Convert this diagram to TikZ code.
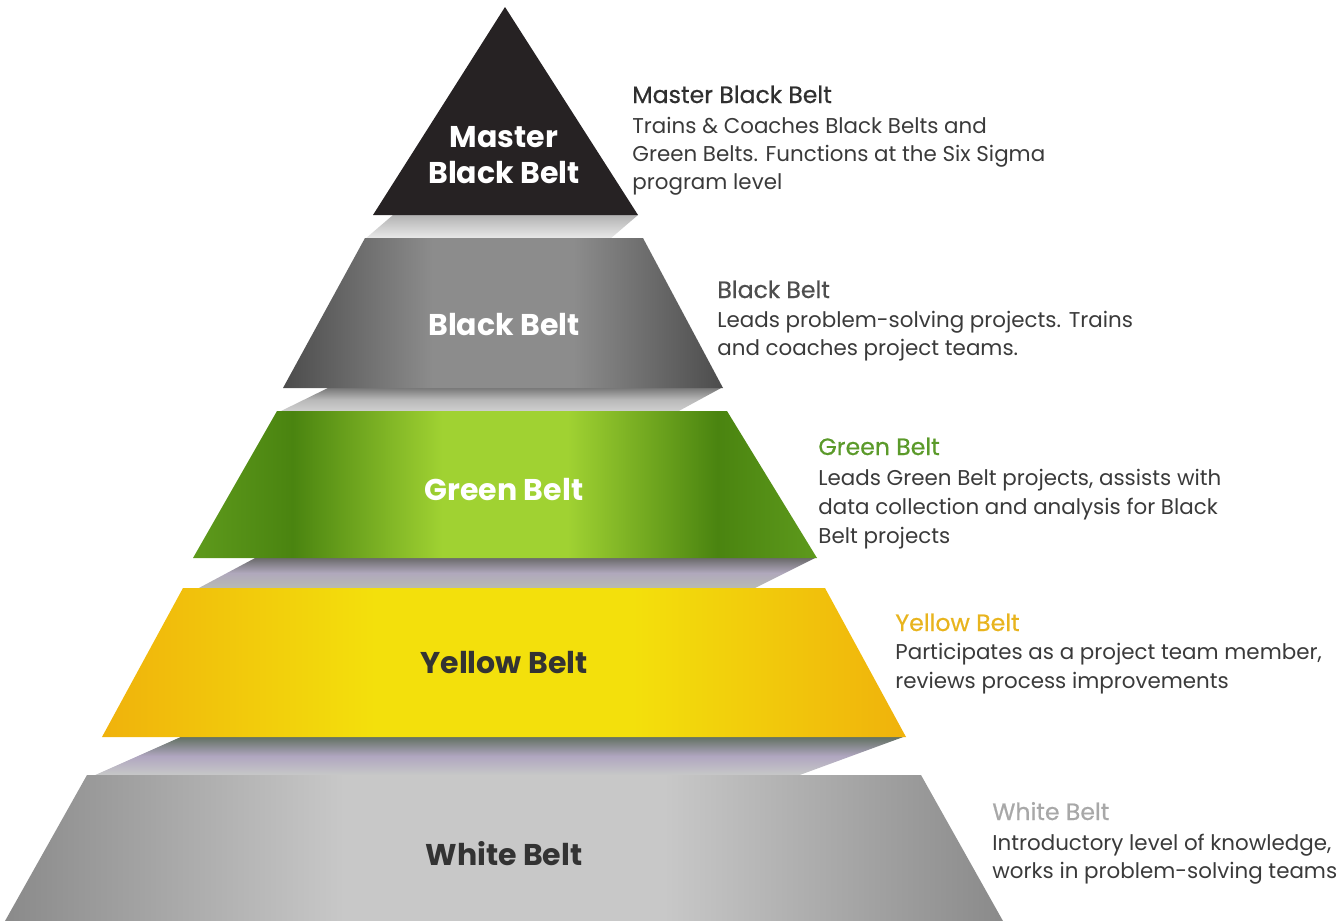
\documentclass[tikz,border=0pt]{standalone}
\usepackage{fontspec}
\setmainfont{Poppins}
\newfontfamily\headfont[FakeBold=0.6]{Poppins}
\definecolor{mbbfill}{HTML}{262223}
\definecolor{bbedge}{HTML}{4C4C4C}
\definecolor{bbmid}{HTML}{8C8C8C}
\definecolor{gbedge}{HTML}{5E9A1C}
\definecolor{gbdark}{HTML}{4A8410}
\definecolor{gbmid}{HTML}{A0D232}
\definecolor{ybedge}{HTML}{F0B20C}
\definecolor{ybmid}{HTML}{F3E00C}
\definecolor{wbedge}{HTML}{8A8A8A}
\definecolor{wbmid}{HTML}{C8C8C8}
\definecolor{bodygray}{HTML}{3A3A3A}
\definecolor{headdark}{HTML}{2F2F2F}
\definecolor{headgreen}{HTML}{5B9A2A}
\definecolor{headyellow}{HTML}{E8B41E}
\definecolor{headwhite}{HTML}{A8A8A8}
\definecolor{labeldark}{HTML}{333333}
\definecolor{bandlav}{RGB}{176,168,188}
\definecolor{bandsage}{RGB}{184,188,180}
\definecolor{bandtop}{RGB}{94,110,94}
\definecolor{bandlav2}{RGB}{176,166,192}
\definecolor{bandlow}{RGB}{200,202,200}
\pgfdeclarehorizontalshading{bbshade}{100bp}{color(0bp)=(bbedge); color(25bp)=(bbedge); color(42bp)=(bbmid); color(58bp)=(bbmid); color(75bp)=(bbedge); color(100bp)=(bbedge)}
\pgfdeclarehorizontalshading{gbshade}{100bp}{color(0bp)=(gbedge); color(25bp)=(gbedge); color(33bp)=(gbdark); color(45bp)=(gbmid); color(55bp)=(gbmid); color(67bp)=(gbdark); color(75bp)=(gbedge); color(100bp)=(gbedge)}
\pgfdeclarehorizontalshading{ybshade}{100bp}{color(0bp)=(ybedge); color(25bp)=(ybedge); color(42bp)=(ybmid); color(58bp)=(ybmid); color(75bp)=(ybedge); color(100bp)=(ybedge)}
\pgfdeclarehorizontalshading{wbshade}{100bp}{color(0bp)=(wbedge); color(25bp)=(wbedge); color(42bp)=(wbmid); color(58bp)=(wbmid); color(75bp)=(wbedge); color(100bp)=(wbedge)}
\begin{document}
\begin{tikzpicture}[x=0.5pt,y=-0.5pt,
  lbl/.style={anchor=base, inner sep=0pt, font=\bfseries\fontsize{15}{18}\selectfont, text=white},
  head/.style={anchor=base west, inner sep=0pt, font=\headfont\fontsize{11.8}{14}\selectfont},
  body/.style={anchor=base west, inner sep=0pt, font=\fontsize{10.7}{13}\selectfont, text=bodygray}]
\useasboundingbox (0,0) rectangle (1340,921);
% bands (undersides)
\shade[top color=black!30, bottom color=black!8] (393,215) -- (638,215) -- (610,239) -- (365,239) -- cycle;
\shade[top color=black!55, bottom color=black!18, middle color=black!28] (330,387) -- (723,387) -- (677,412) -- (279,412) -- cycle;
\shade[top color=black!60, bottom color=bandsage, middle color=bandlav] (257,557) -- (817,557) -- (753,589) -- (197,589) -- cycle;
\shade[top color=bandtop, bottom color=bandlow, middle color=bandlav2] (183,736) -- (906,736) -- (797,776) -- (93,776) -- cycle;
% layers
\fill[mbbfill] (505,7) -- (638,215) -- (373,215) -- cycle;
\shade[shading=bbshade] (365,238) -- (643,238) -- (723,388) -- (283,388) -- cycle;
\shade[shading=gbshade] (277,411) -- (727,411) -- (817,558) -- (193,558) -- cycle;
\shade[shading=ybshade] (183,588) -- (825,588) -- (906,737) -- (102,737) -- cycle;
\shade[shading=wbshade] (87,775) -- (921,775) -- (1003,921) -- (5,921) -- cycle;
% labels in the pyramid
\node[lbl] (mbbA) at (504,147) {Master};
\node[lbl] (mbbB) at (504,183) {Black Belt};
\node[lbl] (bbL) at (504,335) {Black Belt};
\node[lbl] (gbL) at (504,500) {Green Belt};
\node[lbl, text=labeldark] (ybL) at (504,673) {Yellow Belt};
\node[lbl, text=labeldark] (wbL) at (504,865) {White Belt};
% descriptions
\node[head, text=headdark] (mbbH) at (632,103) {Master Black Belt};
\node[body] (mbb1) at (632,133) {Trains \& Coaches Black Belts and};
\node[body] (mbb2) at (632,161) {Green Belts. Functions at the Six Sigma};
\node[body] (mbb3) at (632,189) {program level};
\node[head, text=headdark!85] (bbH) at (717,298) {Black Belt};
\node[body] (bb1) at (717,327) {Leads problem-solving projects. Trains};
\node[body] (bb2) at (717,355) {and coaches project teams.};
\node[head, text=headgreen] (gbH) at (818,455) {Green Belt};
\node[body] (gb1) at (818,485) {Leads Green Belt projects, assists with};
\node[body] (gb2) at (818,514) {data collection and analysis for Black};
\node[body] (gb3) at (818,543) {Belt projects};
\node[head, text=headyellow] (ybH) at (895,631) {Yellow Belt};
\node[body] (yb1) at (895,659) {Participates as a project team member,};
\node[body] (yb2) at (895,688) {reviews process improvements};
\node[head, text=headwhite] (wbH) at (992,820) {White Belt};
\node[body] (wb1) at (992,850) {Introductory level of knowledge,};
\node[body] (wb2) at (992,878) {works in problem-solving teams};
\end{tikzpicture}
\end{document}
